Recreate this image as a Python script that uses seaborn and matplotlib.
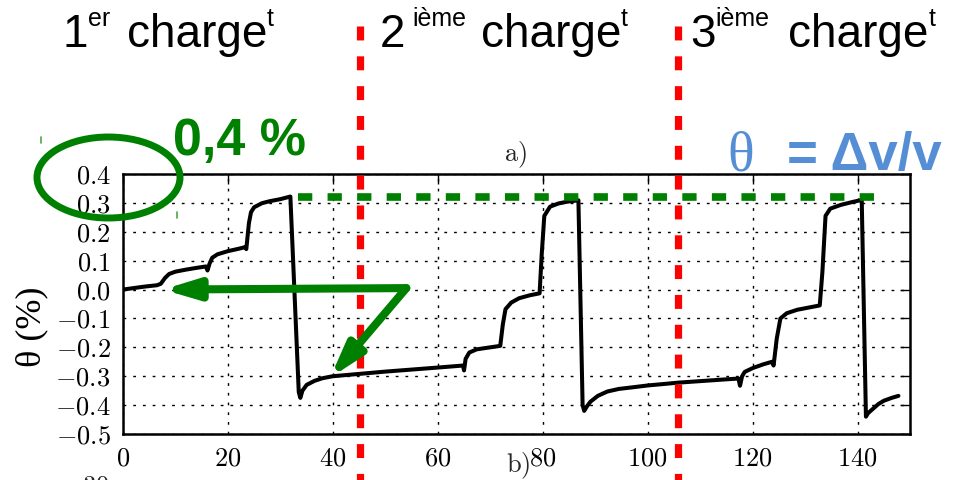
import matplotlib
matplotlib.use("Agg")
import matplotlib.pyplot as plt
import pandas as pd
import seaborn as sns
from matplotlib.patches import Ellipse, FancyArrowPatch
from matplotlib.lines import Line2D
from matplotlib.transforms import IdentityTransform

# ---- data: relative velocity change theta over time ----
time = [0, 2, 4, 6.5, 7.2, 8.0, 8.8, 10, 12, 14, 15.8, 16.1, 16.5, 17.0, 18, 20, 22,
        23.3, 23.5, 24.0, 24.4, 25.0, 26.5, 28, 30, 31.9, 33.5, 33.8, 34.2, 35, 36.5,
        38, 40, 45, 50, 55, 60, 64.8, 65.0, 65.3, 66.0, 67.4, 70, 71.9, 72.4, 72.9,
        74, 75.5, 77.5, 79.4, 79.8, 80.3, 81.4, 83, 84.6, 86.8, 87.6, 87.9, 88.4,
        89.1, 90.5, 92.3, 94.5, 97.3, 100, 103, 106, 110, 114, 117.3, 117.6, 118.0,
        118.5, 120, 122, 123.7, 124.0, 124.6, 125.3, 126.5, 128.5, 130.5, 132.8,
        133.3, 133.9, 134.8, 136.8, 139, 140.8, 141.6, 142.0, 142.8, 144, 145,
        146.5, 147.8]
theta = [0.000, 0.005, 0.010, 0.015, 0.020, 0.040, 0.054, 0.062, 0.069, 0.075, 0.080,
         0.066, 0.090, 0.110, 0.122, 0.133, 0.141, 0.147, 0.140, 0.230, 0.268, 0.285,
         0.299, 0.306, 0.313, 0.322, -0.355, -0.375, -0.350, -0.330, -0.316, -0.307,
         -0.300, -0.292, -0.284, -0.277, -0.270, -0.263, -0.280, -0.240, -0.218,
         -0.207, -0.200, -0.195, -0.120, -0.068, -0.045, -0.030, -0.020, -0.013,
         0.120, 0.255, 0.287, 0.298, 0.304, 0.309, -0.400, -0.420, -0.405, -0.388,
         -0.368, -0.353, -0.344, -0.338, -0.332, -0.327, -0.322, -0.317, -0.312,
         -0.308, -0.333, -0.300, -0.285, -0.272, -0.259, -0.250, -0.263, -0.170,
         -0.100, -0.082, -0.070, -0.063, -0.055, 0.060, 0.255, 0.280, 0.293, 0.303,
         0.310, -0.440, -0.428, -0.415, -0.396, -0.385, -0.375, -0.368]

x_ticks = [0, 20, 40, 60, 80, 100, 120, 140]
y_ticks = [0.4, 0.3, 0.2, 0.1, 0.0, -0.1, -0.2, -0.3, -0.4, -0.5]

load_starts = [45.2, 105.7]          # boundaries between loading cycles
peak_level = 0.32                    # plateau reached at each loading
arrow_origin = (54.0, 0.005)
arrow_tips = [(7.6, 0.0), (39.5, -0.305)]

# (text, left edge in px) for number, superscript, word, superscript
titles = [
    [("1", 62), ("er", 88), ("charge", 127), ("t", 267)],
    [("2", 380), ("ième", 412), ("charge", 481), ("t", 621)],
    [("3", 690), ("ième", 715), ("charge", 788), ("t", 929)],
]

GREEN = "#008000"
RED = "#FF0000"
BLUE = "#558ED5"
W, H = 957, 480

sns.set_theme(style="white")
plt.rcParams["font.family"] = ["Liberation Sans", "DejaVu Sans"]
plt.rcParams["mathtext.fontset"] = "cm"

fig = plt.figure(figsize=(W / 100, H / 100), dpi=100)
fig.patch.set_facecolor("white")
ax = fig.add_axes([123 / W, 1 - 434 / H, (910 - 123) / W, (434 - 174) / H])
ax.set_facecolor("white")

df = pd.DataFrame({"time": time, "theta": theta})
sns.lineplot(data=df, x="time", y="theta", ax=ax, color="black", lw=2.9,
             estimator=None, sort=False, zorder=3)

ax.set_xlim(0, 150)
ax.set_ylim(-0.5, 0.4)
ax.set_xticks(x_ticks)
ax.set_xticklabels([f"${v}$" for v in x_ticks])
ax.set_yticks(y_ticks)
ax.set_yticklabels([f"${v:.1f}$" for v in y_ticks])
ax.set_xlabel("")
ax.set_ylabel("")
ax.tick_params(direction="in", length=7, width=1, top=True, right=True,
               labelsize=19, pad=9, colors="black")
for s in ax.spines.values():
    s.set_visible(True)
    s.set_color("black")
    s.set_linewidth(1.8)
ax.grid(True, color="black", lw=1, linestyle=(0, (2, 5)))

fig.text(32 / W, 1 - 327 / H, "θ (%)", rotation=90, ha="center", va="center",
         family="Liberation Serif", size=26, color="black")
fig.text(515 / W, 1 - 155 / H, r"$\mathrm{a)}$", ha="center", va="center", size=19)
fig.text(518 / W, 1 - 466 / H, r"$\mathrm{b)}$", ha="center", va="center", size=19)
fig.text(110 / W, 1 - 474 / H, r"$-30$", ha="right", va="top", size=19)

# cycle boundaries (red dashed, extending past the axes)
for xb in load_starts:
    ax.plot([xb, xb], [1.569, -0.2], transform=ax.get_xaxis_transform(),
            color=RED, lw=5.2, linestyle=(0, (1.93, 2.2)), clip_on=False, zorder=5)

# plateau level (green dashed)
ax.plot([33.4, 144.4], [peak_level, peak_level], color=GREEN, lw=5.5,
        linestyle=(0, (1.87, 2.0)), clip_on=False, zorder=6)

# arrows from the origin point to the curve
for tip in arrow_tips:
    arr = FancyArrowPatch(arrow_origin, tip,
                          arrowstyle="-|>,head_length=20,head_width=6",
                          mutation_scale=1, lw=5.8, color=GREEN,
                          shrinkA=0, shrinkB=0, clip_on=False, zorder=7)
    ax.add_patch(arr)

# ellipse around the top of the axis
ell = Ellipse((108.5, H - 177.5), 143, 81, fill=False, edgecolor=GREEN, lw=5,
              transform=IdentityTransform())
fig.add_artist(ell)
for (xm, y0, y1) in [(40.5, 137, 143), (176.5, 212, 218)]:
    fig.add_artist(Line2D([xm, xm], [H - y0, H - y1], color="#4CA64C", lw=1.2,
                          transform=IdentityTransform()))

fig.text(173 / W, 1 - 155 / H, "0,4 %", ha="left", va="baseline", size=37.5,
         weight="bold", color=GREEN)
fig.text(727 / W, 1 - 170 / H, "θ", ha="left", va="baseline", size=40,
         family="Liberation Serif", color=BLUE)
fig.text(787 / W, 1 - 170 / H, "= Δv/v", ha="left", va="baseline", size=38,
         weight="bold", color=BLUE)

# cycle titles with superscripts
for parts in titles:
    for i, (txt, xp) in enumerate(parts):
        sup = i % 2 == 1
        base = 26 if sup else 47
        fig.text(xp / W, 1 - base / H, txt, ha="left", va="baseline",
                 size=18 if sup else 33, color="black")

fig.savefig("out.png", dpi=100, facecolor="white")
